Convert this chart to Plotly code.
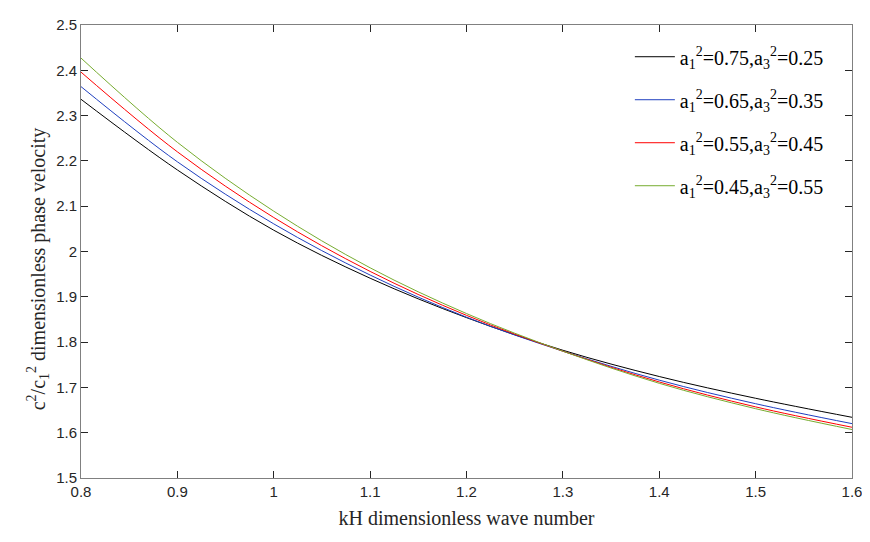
import plotly.graph_objects as go

kH = [0.8, 0.9, 1.0, 1.1, 1.2, 1.3, 1.4, 1.5, 1.6]
v_075 = [2.336, 2.180, 2.047, 1.941, 1.854, 1.782, 1.724, 1.676, 1.634]
v_065 = [2.364, 2.198, 2.061, 1.948, 1.855, 1.780, 1.716, 1.664, 1.620]
v_055 = [2.396, 2.220, 2.075, 1.956, 1.859, 1.780, 1.712, 1.657, 1.612]
v_045 = [2.427, 2.241, 2.089, 1.964, 1.863, 1.780, 1.709, 1.653, 1.607]

names = [
    "a<sub>1</sub><sup>2</sup>=0.75,a<sub>3</sub><sup>2</sup>=0.25",
    "a<sub>1</sub><sup>2</sup>=0.65,a<sub>3</sub><sup>2</sup>=0.35",
    "a<sub>1</sub><sup>2</sup>=0.55,a<sub>3</sub><sup>2</sup>=0.45",
    "a<sub>1</sub><sup>2</sup>=0.45,a<sub>3</sub><sup>2</sup>=0.55",
]
series = [v_075, v_065, v_055, v_045]
colors = ["#000000", "#1f3fbf", "#ff0000", "#77ac30"]

x_ticks = [0.8, 0.9, 1.0, 1.1, 1.2, 1.3, 1.4, 1.5, 1.6]
x_labels = ["0.8", "0.9", "1", "1.1", "1.2", "1.3", "1.4", "1.5", "1.6"]
y_ticks = [1.5, 1.6, 1.7, 1.8, 1.9, 2.0, 2.1, 2.2, 2.3, 2.4, 2.5]
y_labels = ["1.5", "1.6", "1.7", "1.8", "1.9", "2", "2.1", "2.2", "2.3", "2.4", "2.5"]

fig = go.Figure()
for i, (nm, ys, c) in enumerate(zip(names, series, colors)):
    fig.add_trace(go.Scatter(x=kH, y=ys, mode="lines", name=nm, legendgroup=f"g{i}",
                             line=dict(color=c, width=1, shape="spline", smoothing=1.0)))

serif = "Liberation Serif, Times New Roman, serif"
axis_common = dict(
    showgrid=False, zeroline=False, showline=True, linecolor="#808080", linewidth=1,
    mirror="ticks", ticks="inside", ticklen=7, tickcolor="#262626", tickwidth=1,
    ticklabeloverflow="allow",
    tickfont=dict(family="Liberation Sans, Arial, sans-serif", size=15, color="#262626"),
)

fig.update_layout(
    width=862, height=534,
    margin=dict(l=73, r=18, t=8, b=64),
    paper_bgcolor="white", plot_bgcolor="white",
    xaxis=dict(range=[0.8, 1.6], tickvals=x_ticks, ticktext=x_labels,
               title=dict(text="kH dimensionless wave number", standoff=11,
                          font=dict(family=serif, size=20, color="#262626")),
               **axis_common),
    yaxis=dict(range=[1.5, 2.5], tickvals=y_ticks, ticktext=y_labels,
               title=dict(text="c<sup>2</sup>/c<sub>1</sub><sup>2</sup> dimensionless phase velocity&nbsp;&nbsp;&nbsp;&nbsp;&nbsp;&nbsp;&nbsp;",
                          standoff=5,
                          font=dict(family=serif, size=20, color="#262626")),
               **axis_common),
    legend=dict(x=0.97, y=0.973, xanchor="right", yanchor="top",
                bgcolor="rgba(255,255,255,0)", borderwidth=0,
                font=dict(family=serif, size=20, color="#000000"),
                itemwidth=40, tracegroupgap=14),
    showlegend=True,
)

fig.write_html("out.html")
